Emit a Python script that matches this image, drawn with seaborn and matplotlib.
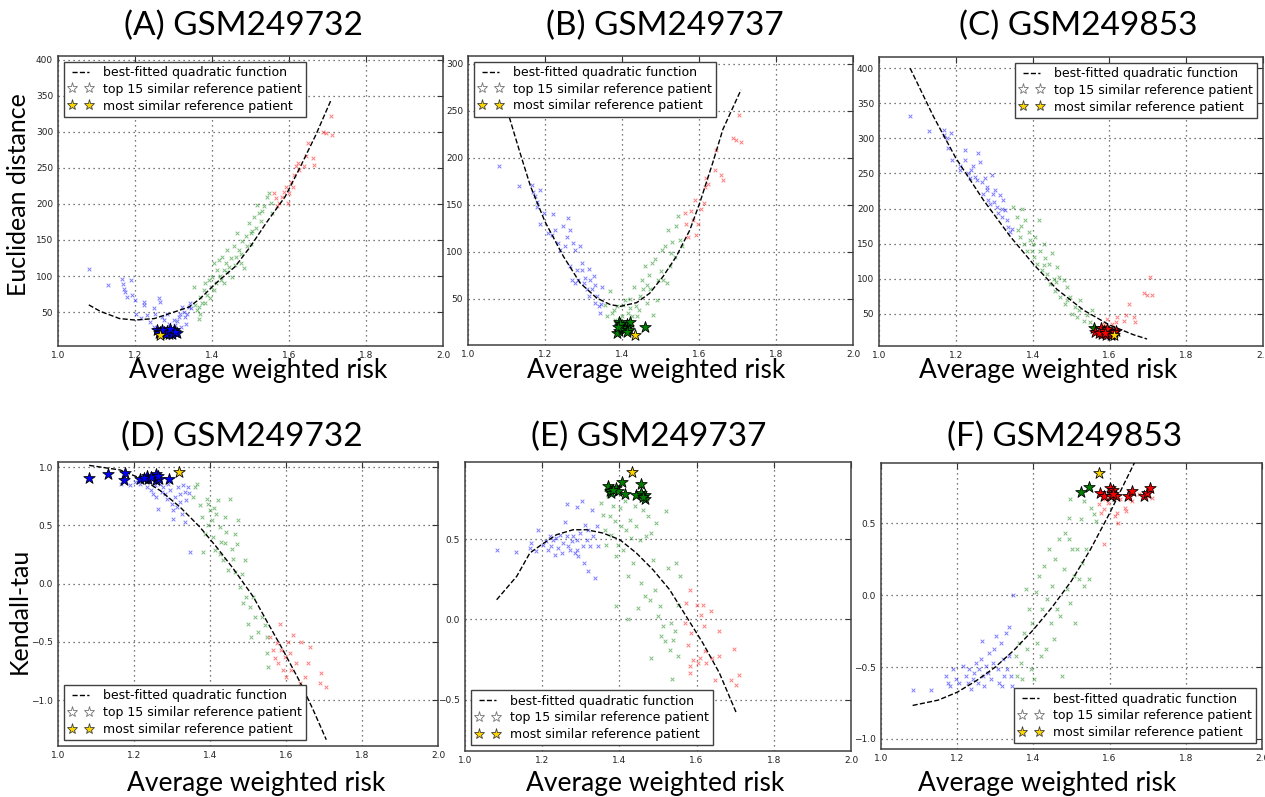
import numpy as np
import pandas as pd
import seaborn as sns
import matplotlib.pyplot as plt
from matplotlib.lines import Line2D

# ---- data (x = average weighted risk) ----
# (A) GSM249732, Euclidean distance
a_blue = [(1.081, 110), (1.131, 88), (1.166, 96), (1.170, 89), (1.172, 82), (1.174, 78), (1.179, 71), (1.190, 94),
          (1.192, 74), (1.200, 67), (1.203, 48), (1.223, 64), (1.224, 60), (1.231, 46), (1.249, 55), (1.253, 48),
          (1.262, 69), (1.264, 64), (1.270, 43), (1.275, 39), (1.283, 48), (1.288, 34), (1.292, 30), (1.301, 39),
          (1.305, 32), (1.310, 37), (1.314, 43), (1.318, 48), (1.323, 57), (1.327, 50), (1.331, 43), (1.336, 48),
          (1.340, 57), (1.344, 62), (1.250, 30), (1.258, 26), (1.280, 28), (1.300, 27), (1.320, 30), (1.285, 24),
          (1.312, 25), (1.332, 33), (1.240, 36), (1.215, 42), (1.345, 55)]
a_green = [(1.353, 85), (1.357, 60), (1.362, 53), (1.366, 57), (1.370, 71), (1.375, 62), (1.379, 81), (1.383, 90),
           (1.388, 74), (1.392, 95), (1.397, 85), (1.401, 99), (1.405, 118), (1.410, 90), (1.414, 108), (1.418, 122),
           (1.423, 95), (1.427, 127), (1.431, 108), (1.436, 118), (1.440, 136), (1.445, 113), (1.449, 125),
           (1.453, 99), (1.457, 141), (1.462, 127), (1.466, 159), (1.470, 136), (1.475, 118), (1.479, 148),
           (1.483, 111), (1.488, 155), (1.492, 141), (1.497, 173), (1.501, 145), (1.505, 162), (1.510, 182),
           (1.514, 166), (1.518, 199), (1.523, 187), (1.527, 176), (1.536, 197), (1.544, 210), (1.549, 215),
           (1.553, 201), (1.557, 187), (1.370, 48), (1.383, 62), (1.405, 81), (1.420, 100), (1.440, 105),
           (1.460, 115), (1.365, 40), (1.395, 70), (1.430, 90), (1.475, 130), (1.500, 160), (1.530, 190)]
a_red = [(1.562, 215), (1.566, 208), (1.570, 197), (1.575, 201), (1.583, 210), (1.588, 217), (1.592, 224),
         (1.597, 201), (1.601, 215), (1.605, 231), (1.610, 224), (1.614, 240), (1.618, 252), (1.623, 256),
         (1.627, 247), (1.640, 252), (1.645, 266), (1.649, 284), (1.662, 263), (1.666, 254), (1.688, 299),
         (1.697, 298), (1.710, 322), (1.712, 296)]
a_curve = [(1.08, 60), (1.11, 51), (1.16, 41), (1.20, 39), (1.25, 41), (1.29, 48), (1.34, 57), (1.37, 69),
           (1.41, 90), (1.46, 113), (1.50, 141), (1.54, 173), (1.59, 210), (1.63, 252), (1.67, 296), (1.71, 345)]
a_top = [(1.257, 25), (1.266, 22), (1.283, 24), (1.288, 20), (1.292, 22), (1.301, 25), (1.310, 21), (1.275, 23),
         (1.295, 19), (1.262, 21), (1.305, 23), (1.280, 20), (1.270, 25), (1.290, 26)]
a_top_colors = ['b'] * 14
a_best = (1.264, 18)

# (B) GSM249737, Euclidean distance
b_blue = [(1.080, 191), (1.132, 170), (1.166, 171), (1.170, 164), (1.175, 159), (1.178, 153), (1.179, 148),
          (1.188, 166), (1.188, 130), (1.197, 141), (1.209, 120), (1.218, 118), (1.222, 140), (1.227, 123),
          (1.235, 109), (1.240, 102), (1.248, 127), (1.257, 116), (1.261, 136), (1.266, 123), (1.253, 106),
          (1.266, 85), (1.270, 70), (1.274, 109), (1.278, 102), (1.283, 81), (1.287, 70), (1.291, 106), (1.295, 88),
          (1.300, 67), (1.304, 72), (1.309, 60), (1.313, 53), (1.317, 70), (1.322, 60), (1.326, 74), (1.330, 46),
          (1.334, 53), (1.343, 35), (1.347, 63), (1.339, 42), (1.295, 81), (1.277, 67), (1.315, 82), (1.330, 65),
          (1.345, 45)]
b_green = [(1.356, 44), (1.360, 32), (1.369, 58), (1.373, 35), (1.382, 28), (1.386, 42), (1.390, 21), (1.399, 32),
           (1.403, 44), (1.408, 49), (1.412, 25), (1.416, 35), (1.421, 50), (1.425, 32), (1.431, 63), (1.436, 42),
           (1.440, 32), (1.447, 53), (1.451, 70), (1.455, 60), (1.459, 85), (1.464, 46), (1.472, 60), (1.477, 88),
           (1.481, 33), (1.485, 92), (1.490, 49), (1.494, 70), (1.503, 102), (1.511, 106), (1.516, 67),
           (1.520, 123), (1.524, 85), (1.528, 99), (1.537, 95), (1.541, 127), (1.546, 138), (1.550, 113),
           (1.555, 106), (1.507, 70), (1.380, 38), (1.395, 28), (1.420, 40), (1.445, 38), (1.465, 65), (1.500, 80),
           (1.530, 110), (1.470, 75)]
b_red = [(1.563, 141), (1.567, 130), (1.572, 116), (1.580, 143), (1.584, 134), (1.589, 155), (1.593, 118),
         (1.597, 130), (1.606, 145), (1.612, 152), (1.615, 169), (1.619, 178), (1.623, 172), (1.641, 187),
         (1.645, 208), (1.658, 182), (1.662, 176), (1.688, 221), (1.697, 219), (1.705, 245), (1.709, 217)]
b_curve = [(1.08, 272), (1.108, 242), (1.136, 204), (1.162, 170), (1.20, 132), (1.248, 95), (1.291, 67),
           (1.334, 51), (1.369, 44), (1.395, 42), (1.438, 46), (1.472, 56), (1.507, 74), (1.541, 95), (1.576, 123),
           (1.602, 152), (1.636, 195), (1.662, 230), (1.709, 272)]
b_top = [(1.391, 25), (1.395, 21), (1.391, 16), (1.386, 14), (1.412, 23), (1.416, 20), (1.421, 25), (1.459, 20),
         (1.408, 18), (1.400, 19), (1.418, 17), (1.396, 23), (1.412, 15), (1.390, 20)]
b_top_colors = ['g'] * 14
b_best = (1.434, 12)

# (C) GSM249853, Euclidean distance
c_blue = [(1.081, 332), (1.130, 310), (1.168, 312), (1.170, 305), (1.177, 300), (1.180, 286), (1.188, 307),
          (1.190, 269), (1.210, 260), (1.211, 255), (1.223, 283), (1.224, 269), (1.233, 251), (1.236, 243),
          (1.246, 260), (1.250, 245), (1.259, 279), (1.263, 267), (1.268, 238), (1.272, 221), (1.277, 243),
          (1.281, 226), (1.285, 212), (1.290, 207), (1.294, 248), (1.298, 221), (1.303, 226), (1.307, 202),
          (1.311, 193), (1.316, 219), (1.320, 188), (1.324, 212), (1.329, 198), (1.333, 183), (1.337, 174),
          (1.342, 167), (1.347, 171), (1.255, 240), (1.300, 210), (1.320, 200), (1.280, 230), (1.240, 255)]
c_green = [(1.350, 202), (1.359, 188), (1.363, 169), (1.367, 160), (1.372, 200), (1.377, 150), (1.381, 183),
           (1.385, 140), (1.390, 167), (1.394, 155), (1.398, 140), (1.403, 131), (1.407, 160), (1.411, 121),
           (1.416, 183), (1.420, 140), (1.424, 112), (1.429, 150), (1.433, 129), (1.437, 107), (1.442, 121),
           (1.446, 93), (1.450, 136), (1.455, 100), (1.459, 83), (1.463, 117), (1.468, 102), (1.472, 74),
           (1.481, 98), (1.485, 64), (1.490, 88), (1.498, 74), (1.503, 50), (1.511, 60), (1.516, 45), (1.524, 69),
           (1.533, 40), (1.541, 48), (1.550, 38), (1.555, 55), (1.559, 31), (1.370, 175), (1.400, 150),
           (1.430, 120), (1.460, 95), (1.490, 70), (1.520, 55)]
c_red = [(1.572, 26), (1.581, 31), (1.590, 24), (1.594, 43), (1.607, 36), (1.616, 38), (1.620, 45), (1.638, 40),
         (1.642, 48), (1.650, 64), (1.663, 45), (1.667, 38), (1.690, 79), (1.698, 76), (1.707, 102), (1.711, 76),
         (1.600, 30), (1.585, 35)]
c_curve = [(1.081, 400), (1.142, 331), (1.20, 272), (1.272, 212), (1.342, 160), (1.40, 122), (1.463, 85),
           (1.533, 55), (1.60, 34), (1.663, 20), (1.698, 14)]
c_top = [(1.559, 30), (1.563, 24), (1.577, 29), (1.581, 21), (1.590, 19), (1.599, 24), (1.607, 21), (1.616, 26),
         (1.585, 26), (1.595, 28), (1.572, 22), (1.603, 19), (1.612, 24), (1.588, 23)]
c_top_colors = ['g'] + ['r'] * 13
c_best = (1.612, 19)

# (D) GSM249732, Kendall-tau
d_blue = [(1.167, 0.857), (1.176, 0.886), (1.189, 0.843), (1.202, 0.871), (1.216, 0.857), (1.224, 0.886),
          (1.233, 0.829), (1.242, 0.871), (1.246, 0.800), (1.250, 0.771), (1.255, 0.843), (1.259, 0.743),
          (1.264, 0.643), (1.268, 0.857), (1.273, 0.786), (1.277, 0.829), (1.281, 0.771), (1.286, 0.729),
          (1.290, 0.857), (1.294, 0.800), (1.299, 0.686), (1.303, 0.557), (1.308, 0.743), (1.312, 0.657),
          (1.316, 0.829), (1.321, 0.771), (1.325, 0.600), (1.330, 0.843), (1.334, 0.786), (1.338, 0.714),
          (1.343, 0.829), (1.347, 0.271), (1.334, 0.529), (1.303, 0.629), (1.345, 0.780), (1.320, 0.700)]
d_green = [(1.360, 0.829), (1.365, 0.857), (1.356, 0.743), (1.373, 0.671), (1.378, 0.571), (1.382, 0.271),
           (1.387, 0.429), (1.391, 0.729), (1.395, 0.686), (1.400, 0.629), (1.404, 0.543), (1.408, 0.400),
           (1.413, 0.286), (1.417, 0.600), (1.421, 0.714), (1.426, 0.486), (1.430, 0.357), (1.435, 0.200),
           (1.439, 0.571), (1.443, 0.443), (1.448, 0.114), (1.452, 0.729), (1.457, 0.300), (1.461, 0.214),
           (1.465, 0.429), (1.470, 0.343), (1.474, 0.543), (1.479, -0.029), (1.483, 0.086), (1.487, -0.171),
           (1.492, 0.200), (1.496, -0.114), (1.500, -0.343), (1.505, -0.200), (1.509, -0.457), (1.514, -0.114),
           (1.518, -0.286), (1.527, -0.414), (1.536, -0.286), (1.544, -0.357), (1.549, -0.600), (1.553, -0.714),
           (1.549, -0.457), (1.410, 0.650), (1.440, 0.350), (1.465, 0.100), (1.395, 0.500), (1.425, 0.250)]
d_red = [(1.557, -0.457), (1.566, -0.571), (1.571, -0.643), (1.575, -0.514), (1.579, -0.686), (1.584, -0.343),
         (1.588, -0.571), (1.592, -0.743), (1.597, -0.629), (1.601, -0.800), (1.606, -0.500), (1.610, -0.600),
         (1.614, -0.743), (1.618, -0.443), (1.627, -0.686), (1.636, -0.857), (1.640, -0.500), (1.649, -0.800),
         (1.658, -0.686), (1.663, -0.543), (1.693, -0.766), (1.689, -0.857), (1.706, -0.891)]
d_curve = [(1.082, 1.014), (1.163, 0.975), (1.216, 0.905), (1.268, 0.800), (1.321, 0.657), (1.373, 0.486),
           (1.417, 0.314), (1.461, 0.129), (1.514, -0.114), (1.549, -0.320), (1.592, -0.570), (1.636, -0.840),
           (1.671, -1.080), (1.706, -1.340)]
d_top = [(1.082, 0.909), (1.132, 0.943), (1.174, 0.891), (1.176, 0.951), (1.216, 0.900), (1.233, 0.923),
         (1.238, 0.900), (1.258, 0.937), (1.259, 0.891), (1.266, 0.900), (1.292, 0.900), (1.246, 0.914),
         (1.225, 0.905), (1.262, 0.920)]
d_top_colors = ['b'] * 14
d_best = (1.318, 0.957)

# (E) GSM249737, Kendall-tau
e_blue = [(1.082, 0.429), (1.132, 0.417), (1.168, 0.444), (1.172, 0.475), (1.184, 0.423), (1.188, 0.558),
          (1.203, 0.465), (1.209, 0.485), (1.216, 0.434), (1.224, 0.454), (1.229, 0.496), (1.233, 0.402),
          (1.237, 0.506), (1.242, 0.444), (1.246, 0.527), (1.250, 0.413), (1.254, 0.475), (1.259, 0.604),
          (1.263, 0.517), (1.267, 0.454), (1.272, 0.434), (1.276, 0.485), (1.280, 0.517), (1.284, 0.413),
          (1.289, 0.496), (1.291, 0.699), (1.293, 0.392), (1.297, 0.537), (1.302, 0.734), (1.306, 0.454),
          (1.308, 0.351), (1.310, 0.589), (1.315, 0.496), (1.319, 0.558), (1.323, 0.454), (1.328, 0.683),
          (1.332, 0.517), (1.336, 0.257), (1.341, 0.579), (1.345, 0.454), (1.319, 0.299), (1.289, 0.434),
          (1.220, 0.517), (1.263, 0.718)]
e_green = [(1.353, 0.724), (1.358, 0.651), (1.362, 0.558), (1.366, 0.465), (1.371, 0.766), (1.375, 0.641),
           (1.379, 0.527), (1.384, 0.703), (1.388, 0.610), (1.391, 0.392), (1.392, 0.081), (1.397, 0.465),
           (1.401, 0.693), (1.405, 0.579), (1.409, 0.434), (1.414, 0.734), (1.418, 0.558), (1.422, 0.268),
           (1.427, 0.620), (1.431, 0.506), (1.436, 0.351), (1.440, 0.703), (1.444, 0.579), (1.449, 0.071),
           (1.453, 0.496), (1.457, 0.226), (1.461, 0.682), (1.466, 0.143), (1.470, 0.517), (1.474, 0.641),
           (1.478, 0.122), (1.483, 0.537), (1.487, 0.371), (1.491, 0.185), (1.496, 0.600), (1.500, 0.019),
           (1.504, 0.081), (1.508, -0.106), (1.513, -0.044), (1.517, -0.137), (1.521, 0.672), (1.526, 0.319),
           (1.530, -0.189), (1.534, -0.023), (1.538, -0.127), (1.543, -0.075), (1.547, 0.351), (1.551, -0.230),
           (1.556, 0.268), (1.551, 0.091), (1.483, -0.241), (1.536, -0.371), (1.422, 0.000)]
e_red = [(1.569, -0.023), (1.573, 0.102), (1.578, -0.158), (1.582, 0.185), (1.586, -0.085), (1.591, -0.251),
         (1.600, 0.091), (1.603, -0.272), (1.608, -0.241), (1.612, 0.029), (1.616, 0.091), (1.618, -0.044),
         (1.621, -0.199), (1.625, -0.272), (1.638, 0.050), (1.640, -0.241), (1.647, -0.376), (1.659, -0.075),
         (1.659, -0.230), (1.690, -0.376), (1.696, -0.185), (1.703, -0.407), (1.710, -0.344), (1.582, -0.293),
         (1.582, -0.334)]
e_curve = [(1.082, 0.122), (1.134, 0.268), (1.168, 0.413), (1.198, 0.465), (1.237, 0.527), (1.280, 0.558),
           (1.315, 0.558), (1.358, 0.537), (1.401, 0.496), (1.444, 0.413), (1.487, 0.309), (1.530, 0.185),
           (1.573, 0.019), (1.616, -0.147), (1.659, -0.334), (1.703, -0.583)]
e_top = [(1.371, 0.828), (1.375, 0.797), (1.379, 0.786), (1.391, 0.817), (1.397, 0.797), (1.408, 0.855),
         (1.414, 0.780), (1.444, 0.776), (1.457, 0.844), (1.457, 0.786), (1.466, 0.776), (1.466, 0.749),
         (1.384, 0.807), (1.462, 0.765)]
e_top_colors = ['g'] * 14
e_best = (1.433, 0.915)

# (F) GSM249853, Kendall-tau
f_blue = [(1.083, -0.660), (1.132, -0.660), (1.171, -0.563), (1.176, -0.609), (1.180, -0.632), (1.189, -0.516),
          (1.197, -0.586), (1.206, -0.609), (1.215, -0.493), (1.223, -0.563), (1.228, -0.609), (1.232, -0.516),
          (1.237, -0.655), (1.241, -0.586), (1.245, -0.539), (1.250, -0.470), (1.254, -0.609), (1.258, -0.516),
          (1.263, -0.447), (1.265, -0.319), (1.267, -0.563), (1.271, -0.632), (1.276, -0.493), (1.280, -0.539),
          (1.284, -0.400), (1.289, -0.586), (1.293, -0.470), (1.297, -0.377), (1.302, -0.284), (1.306, -0.516),
          (1.310, -0.609), (1.315, -0.331), (1.317, -0.632), (1.319, -0.447), (1.323, -0.563), (1.328, -0.261),
          (1.332, -0.516), (1.337, -0.423), (1.341, -0.563), (1.345, -0.632), (1.347, 0.000), (1.335, -0.222)]
f_green = [(1.354, -0.423), (1.358, -0.563), (1.363, -0.331), (1.367, -0.470), (1.371, -0.586), (1.376, -0.261),
           (1.380, 0.042), (1.384, -0.377), (1.389, -0.097), (1.393, -0.516), (1.397, -0.191), (1.402, -0.586),
           (1.406, 0.019), (1.410, -0.331), (1.415, 0.135), (1.419, -0.423), (1.423, -0.097), (1.428, 0.203),
           (1.432, -0.377), (1.437, -0.028), (1.441, 0.319), (1.445, -0.191), (1.450, 0.065), (1.454, -0.307),
           (1.458, 0.249), (1.463, -0.097), (1.467, 0.389), (1.471, -0.145), (1.476, -0.563), (1.480, 0.180),
           (1.484, 0.435), (1.489, 0.042), (1.493, 0.389), (1.497, -0.051), (1.502, 0.319), (1.506, 0.135),
           (1.510, -0.191), (1.515, 0.319), (1.519, 0.112), (1.528, 0.226), (1.532, 0.065), (1.537, 0.319),
           (1.497, 0.667), (1.493, 0.539), (1.524, 0.528), (1.532, 0.655), (1.545, 0.112), (1.550, 0.609),
           (1.558, 0.563), (1.563, 0.516)]
f_red = [(1.573, 0.632), (1.578, 0.574), (1.584, 0.597), (1.586, 0.354), (1.589, 0.667), (1.597, 0.644),
         (1.615, 0.551), (1.620, 0.574), (1.623, 0.505), (1.628, 0.667), (1.641, 0.609), (1.643, 0.586),
         (1.654, 0.667), (1.658, 0.655), (1.676, 0.702), (1.697, 0.690), (1.710, 0.679)]
f_curve = [(1.083, -0.767), (1.15, -0.730), (1.20, -0.675), (1.25, -0.595), (1.30, -0.500), (1.35, -0.380),
           (1.40, -0.240), (1.45, -0.080), (1.50, 0.100), (1.55, 0.320), (1.60, 0.570), (1.65, 0.840),
           (1.68, 1.000)]
f_top = [(1.525, 0.720), (1.546, 0.752), (1.576, 0.711), (1.586, 0.692), (1.601, 0.744), (1.610, 0.732),
         (1.603, 0.688), (1.616, 0.688), (1.648, 0.692), (1.660, 0.727), (1.690, 0.692), (1.697, 0.711),
         (1.705, 0.744), (1.608, 0.705)]
f_top_colors = ['g', 'g'] + ['r'] * 12
f_best = (1.572, 0.848)

titles = ['(A) GSM249732', '(B) GSM249737', '(C) GSM249853',
          '(D) GSM249732', '(E) GSM249737', '(F) GSM249853']
xlabel = 'Average weighted risk'
ylabels = ['Euclidean distance', 'Kendall-tau']
legend_labels = ['best-fitted quadratic function', 'top 15 similar reference patient',
                 'most similar reference patient']

W, H = 1265, 797
sns.set_style('white')
plt.rcParams['font.family'] = ['DejaVu Sans']
plt.rcParams['text.color'] = 'black'
label_font = ['Lato', 'DejaVu Sans']

fig = plt.figure(figsize=(W / 100, H / 100), dpi=100)


def px_axes(left, top, right, bottom):
    return fig.add_axes([left / W, 1 - bottom / H, (right - left) / W, (bottom - top) / H])


def to_df(pairs):
    return pd.DataFrame(pairs, columns=['risk', 'value'])


def draw_panel(ax, blue, green, red, curve, top, top_colors, best, ylim, yticks, legend_loc):
    for pts, col in [(blue, 'b'), (green, 'g'), (red, 'r')]:
        sns.scatterplot(data=to_df(pts), x='risk', y='value', ax=ax, marker='x', color=col,
                        s=7, linewidth=0.7, alpha=0.5, zorder=3)
    sns.lineplot(data=to_df(curve), x='risk', y='value', ax=ax, color='k', linestyle='--',
                 linewidth=1.0, sort=False, estimator=None, zorder=4)
    tdf = to_df(top)
    tdf['c'] = top_colors
    for col, grp in tdf.groupby('c'):
        sns.scatterplot(data=grp, x='risk', y='value', ax=ax, marker='*', color=col, s=75,
                        edgecolor='k', linewidth=0.6, zorder=5)
    sns.scatterplot(x=[best[0]], y=[best[1]], ax=ax, marker='*', color='gold', s=75,
                    edgecolor='k', linewidth=0.6, zorder=6)
    ax.set_xlim(1.0, 2.0)
    ax.set_ylim(*ylim)
    ax.set_xticks([1.0, 1.2, 1.4, 1.6, 1.8, 2.0])
    ax.set_xticklabels(['1.0', '1.2', '1.4', '1.6', '1.8', '2.0'])
    ax.set_yticks(yticks)
    ax.set_xlabel('')
    ax.set_ylabel('')
    ax.grid(True, linestyle=(0, (1, 3)), color='0.3', linewidth=0.9)
    ax.tick_params(direction='in', top=True, right=True, length=4, width=0.8,
                   labelsize=6.5, labelcolor='#222222', color='0.2')
    for sp in ax.spines.values():
        sp.set_color('0.25')
        sp.set_linewidth(1.1)
    handles = [Line2D([0], [0], color='k', linestyle='--', linewidth=1.0),
               Line2D([0], [0], marker='*', linestyle='none', markerfacecolor='white',
                      markeredgecolor='0.45', markersize=8, markeredgewidth=0.6),
               Line2D([0], [0], marker='*', linestyle='none', markerfacecolor='gold',
                      markeredgecolor='0.25', markersize=8, markeredgewidth=0.6)]
    leg = ax.legend(handles, legend_labels, loc=legend_loc, numpoints=2, fontsize=9,
                    fancybox=False, framealpha=1, edgecolor='0.25', handlelength=2.0,
                    handletextpad=0.8, borderaxespad=0.45, labelspacing=0.3, borderpad=0.35)
    leg.get_frame().set_linewidth(1.0)
    leg.set_zorder(10)
    for txt in leg.get_texts():
        txt.set_color('black')


euc_ticks = [50, 100, 150, 200, 250, 300, 350, 400]
panels = [
    ((58, 56, 443, 346), a_blue, a_green, a_red, a_curve, a_top, a_top_colors, a_best, (3, 405), euc_ticks, 'upper left'),
    ((468, 56, 853, 345), b_blue, b_green, b_red, b_curve, b_top, b_top_colors, b_best, (1, 308), euc_ticks[:6], 'upper left'),
    ((879, 57, 1263, 346), c_blue, c_green, c_red, c_curve, c_top, c_top_colors, c_best, (4, 416), euc_ticks, 'upper right'),
    ((58, 462, 438, 746), d_blue, d_green, d_red, d_curve, d_top, d_top_colors, d_best, (-1.394, 1.043), [-1.0, -0.5, 0.0, 0.5, 1.0], 'lower left'),
    ((465, 462, 851, 751), e_blue, e_green, e_red, e_curve, e_top, e_top_colors, e_best, (-0.82, 0.98), [-0.5, 0.0, 0.5], 'lower left'),
    ((881, 463, 1262, 749), f_blue, f_green, f_red, f_curve, f_top, f_top_colors, f_best, (-1.07, 0.92), [-1.0, -0.5, 0.0, 0.5], 'lower right'),
]

for rect, *args in panels:
    ax = px_axes(*rect)
    draw_panel(ax, *args)

# titles, axis labels (placed in pixel coordinates like the composite figure)
title_pos = [(244, 26), (665, 26), (1078, 26), (242, 437), (649, 437), (1065, 437)]
for t, (x, y) in zip(titles, title_pos):
    fig.text(x / W, 1 - y / H, t, ha='center', va='center', fontsize=24, family=label_font, color='black')

xlabel_pos = [(258, 370), (656, 370), (1048, 370), (256, 783), (655, 783), (1047, 783)]
for x, y in xlabel_pos:
    fig.text(x / W, 1 - y / H, xlabel, ha='center', va='center', fontsize=19, family=label_font, color='black')

fig.text(19 / W, 1 - 195 / H, ylabels[0], ha='center', va='center', rotation=90, fontsize=18,
         family=label_font, color='black')
fig.text(19 / W, 1 - 611 / H, ylabels[1], ha='center', va='center', rotation=90, fontsize=18,
         family=label_font, color='black')

fig.savefig('out.png', dpi=100, facecolor='white')
